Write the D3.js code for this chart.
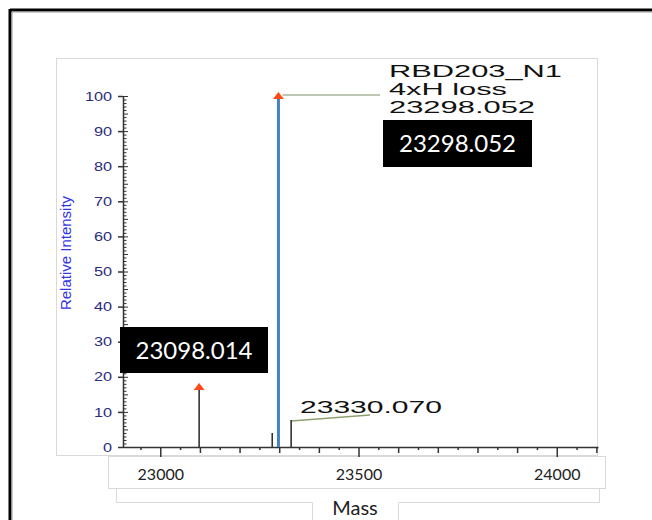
<!DOCTYPE html>
<html>
<head>
<meta charset="utf-8">
<script src="https://cdn.jsdelivr.net/npm/d3@7"></script>
<style>
  body { margin: 0; background: #fff; }
  svg { display: block; }
</style>
</head>
<body>
<div id="chart"></div>
<script>
// 质谱峰数据
const peakMass = [23098.014, 23282.4, 23298.052, 23330.070];
const peakIntensity = [17.1, 4.0, 100, 7.7];
const peakKind = ['labeled', 'minor', 'main', 'minor'];
const arrowPeaks = [23098.014, 23298.052];
const xTickLabels = [23000, 23500, 24000];
const yTickLabels = [0, 10, 20, 30, 40, 50, 60, 70, 80, 90, 100];
const mainLabelLines = ['RBD203_N1', '4xH loss', '23298.052'];
const mainLabelWidths = [173, 118, 146];

const W = 652, H = 520;
const svg = d3.select('#chart').append('svg').attr('width', W).attr('height', H);

const frame = '#d9d9d9';
const arial = '"Liberation Sans", Arial, sans-serif';
const calibri = 'Lato, "Open Sans", sans-serif';

// 外框（黑色）
svg.append('line').attr('x1', 10).attr('x2', W).attr('y1', 10).attr('y2', 10)
    .attr('stroke', '#000').attr('stroke-width', 3);
svg.append('line').attr('x1', 10).attr('x2', 10).attr('y1', 9).attr('y2', H)
    .attr('stroke', '#000').attr('stroke-width', 3);
svg.append('line').attr('x1', 12).attr('x2', W).attr('y1', 12).attr('y2', 12)
    .attr('stroke', '#999').attr('stroke-width', 1);
svg.append('line').attr('x1', 12).attr('x2', 12).attr('y1', 12).attr('y2', H)
    .attr('stroke', '#999').attr('stroke-width', 1);

// 灰色面板
svg.append('rect').attr('x', 56.5).attr('y', 58.5).attr('width', 541).attr('height', 397)
    .attr('fill', '#fff').attr('stroke', frame);
// Mass 区
svg.append('path')
    .attr('d', 'M116.5,470 V502.5 H312.5 V520 M398.5,520 V502.5 H599.5 V470')
    .attr('fill', 'none').attr('stroke', frame);
svg.append('rect').attr('x', 108.5).attr('y', 456.5).attr('width', 497).attr('height', 32)
    .attr('fill', '#fff').attr('stroke', frame);

// 比例尺
const x = d3.scaleLinear().domain([22906, 24104]).range([123, 598]);
const y = d3.scaleLinear().domain([0, 100]).range([447, 96]);

const g = svg.append('g');

// X 轴
const x50 = d3.range(22950, 24101, 50).filter(v => v % 100 !== 0);
const x100 = d3.range(22900, 24101, 100).filter(v => v % 500 !== 0 && v > 22906);
g.append('g').attr('transform', 'translate(0,447)')
    .call(d3.axisBottom(x).tickValues(x50).tickSize(3).tickFormat(''))
    .call(a => a.select('.domain').remove());
g.append('g').attr('transform', 'translate(0,447)')
    .call(d3.axisBottom(x).tickValues(x100).tickSize(6).tickFormat(''))
    .call(a => a.select('.domain').remove());
const xAxis = g.append('g').attr('transform', 'translate(0,447)')
    .call(d3.axisBottom(x).tickValues(xTickLabels).tickSize(10).tickPadding(12).tickFormat(d3.format('d')).tickSizeOuter(0));
xAxis.selectAll('text').attr('font-family', calibri).attr('font-size', 16).attr('fill', '#222');
g.selectAll('.tick line').attr('stroke', '#333').attr('stroke-width', 1.5);
xAxis.select('.domain').attr('stroke', '#333').attr('stroke-width', 1.5);

// Y 轴
const yMinor = g.append('g').attr('transform', 'translate(123,0)')
    .call(d3.axisRight(y).tickValues(d3.range(0, 101, 1).filter(v => v % 5 !== 0)).tickSize(3.5).tickFormat(''));
yMinor.select('.domain').remove();
const yMid = g.append('g').attr('transform', 'translate(123,0)')
    .call(d3.axisRight(y).tickValues(d3.range(0, 101, 5)).tickSize(5).tickFormat(''));
yMid.select('.domain').remove();
const yAxis = g.append('g').attr('transform', 'translate(123,0)')
    .call(d3.axisLeft(y).tickValues(yTickLabels).tickSize(5).tickSizeOuter(0));
yAxis.selectAll('text')
    .attr('font-family', arial).attr('font-size', 13).attr('fill', '#2b2b80')
    .attr('x', -8.8).attr('transform', 'scale(1.25,1)');
yMinor.selectAll('line').attr('stroke', '#333').attr('stroke-width', 1);
yMid.selectAll('line').attr('stroke', '#333').attr('stroke-width', 1);
yAxis.selectAll('line').attr('stroke', '#333').attr('stroke-width', 1.5);
yAxis.select('.domain').attr('stroke', '#333').attr('stroke-width', 1.5);

svg.append('text')
    .attr('transform', 'translate(71,253) rotate(-90)')
    .attr('text-anchor', 'middle')
    .attr('font-family', arial).attr('font-size', 15)
    .attr('fill', '#3333e6')
    .text('Relative Intensity');

svg.append('text').attr('x', 355).attr('y', 515).attr('text-anchor', 'middle')
    .attr('font-family', calibri).attr('font-size', 20).attr('fill', '#222').text('Mass');

// 引线
svg.append('line')
    .attr('x1', x(23298.052) + 4).attr('y1', y(100) - 1).attr('x2', 380).attr('y2', y(100) - 1)
    .attr('stroke', '#a9b59a').attr('stroke-width', 1.5);
svg.append('line')
    .attr('x1', x(23330.070)).attr('y1', y(7.7) + 1).attr('x2', 370).attr('y2', 415)
    .attr('stroke', '#8fa070').attr('stroke-width', 1.5);

// 峰
svg.selectAll('.peak')
    .data(peakMass)
    .enter()
    .append('line')
    .attr('class', 'peak')
    .attr('x1', d => x(d)).attr('x2', d => x(d))
    .attr('y1', y(0))
    .attr('y2', (d, i) => y(peakIntensity[i]))
    .attr('stroke', (d, i) => peakKind[i] === 'main' ? '#4682c0' : '#333')
    .attr('stroke-width', (d, i) => peakKind[i] === 'main' ? 3 : 1.6);

// 红色箭头
svg.selectAll('.arrow')
    .data(arrowPeaks)
    .enter()
    .append('path')
    .attr('class', 'arrow')
    .attr('d', d => {
        const i = peakMass.indexOf(d);
        const cx = x(d), cy = y(peakIntensity[i]);
        return `M${cx},${cy - 4} L${cx + 5.5},${cy + 3} L${cx - 5.5},${cy + 3} Z`;
    })
    .attr('fill', '#ff4a1a');

// 主峰标注文字
mainLabelLines.forEach((t, i) => {
    svg.append('text')
        .attr('x', 389).attr('y', 77 + i * 18)
        .attr('font-family', arial).attr('font-size', 16).attr('fill', '#111')
        .attr('textLength', mainLabelWidths[i]).attr('lengthAdjust', 'spacingAndGlyphs')
        .text(t);
});
svg.append('text')
    .attr('x', 300).attr('y', 413)
    .attr('font-family', arial).attr('font-size', 17).attr('fill', '#111')
    .attr('textLength', 142).attr('lengthAdjust', 'spacingAndGlyphs')
    .text('23330.070');

// 黑底标签
function blackLabel(x0, y0, w, h, t) {
    svg.append('rect').attr('x', x0).attr('y', y0).attr('width', w).attr('height', h).attr('fill', '#000');
    svg.append('text')
        .attr('x', x0 + w / 2).attr('y', y0 + h / 2 + 8.5)
        .attr('text-anchor', 'middle')
        .attr('font-family', calibri).attr('font-size', 24).attr('fill', '#fff')
        .text(t);
}
blackLabel(383, 120, 149, 47, '23298.052');
blackLabel(120, 327, 148, 46, '23098.014');
</script>
</body>
</html>
